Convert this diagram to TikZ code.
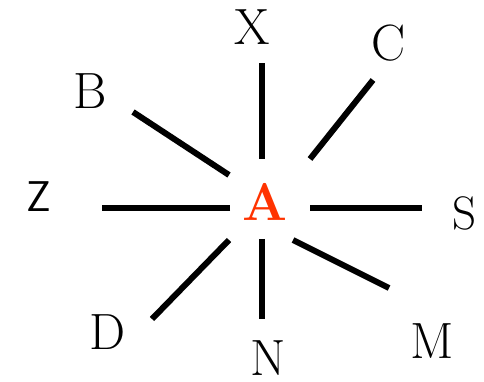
\documentclass[tikz,border=0pt]{standalone}
\usepackage{fontspec}
\definecolor{ared}{HTML}{FF3300}
\begin{document}
\begin{tikzpicture}[x=1pt,y=1pt,
  lbl/.style={inner sep=0pt,anchor=center,font=\fontsize{51}{61}\selectfont},
  spoke/.style={line width=6pt,line cap=butt}]
\useasboundingbox (0,0) rectangle (484,382);
% labels
\node[lbl,text=ared,font=\fontsize{53}{63}\selectfont\bfseries] (A) at (265,180) {A};
\node[lbl] (X) at (252,355) {X};
\node[lbl] (C) at (389,339) {C};
\node[lbl] (B) at (90,291) {B};
\node[lbl,font=\sffamily\fontsize{43}{50}\selectfont] (Z) at (39,185) {Z};
\node[lbl,font=\fontsize{47}{56}\selectfont] (S) at (465,169) {S};
\node[lbl] (D) at (108,50) {D};
\node[lbl] (N) at (268,24) {N};
\node[lbl] (M) at (432,41) {M};
% spoke ends
\coordinate (x1) at (262,223); \coordinate (x2) at (262,319);
\coordinate (c1) at (310,223); \coordinate (c2) at (373,302);
\coordinate (b1) at (229,207); \coordinate (b2) at (133,270);
\coordinate (z1) at (230,174); \coordinate (z2) at (102,174);
\coordinate (s1) at (310,174); \coordinate (s2) at (422,174);
\coordinate (d1) at (229,142); \coordinate (d2) at (152,63);
\coordinate (n1) at (262,143); \coordinate (n2) at (262,63);
\coordinate (m1) at (293,142); \coordinate (m2) at (389,94);
\draw[spoke] (x1) -- (x2);
\draw[spoke] (c1) -- (c2);
\draw[spoke] (b1) -- (b2);
\draw[spoke] (z1) -- (z2);
\draw[spoke] (s1) -- (s2);
\draw[spoke] (d1) -- (d2);
\draw[spoke] (n1) -- (n2);
\draw[spoke] (m1) -- (m2);
\end{tikzpicture}
\end{document}
